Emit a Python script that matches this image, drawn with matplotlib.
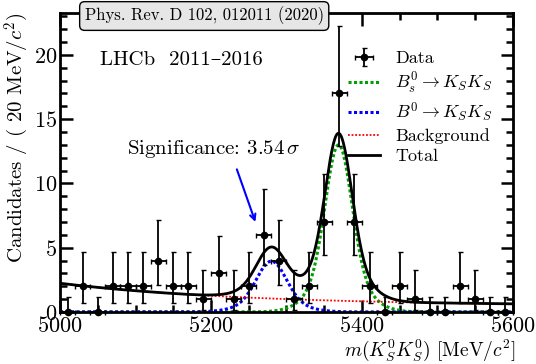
import numpy as np
import matplotlib
matplotlib.use("Agg")
import matplotlib.pyplot as plt
from matplotlib.ticker import MultipleLocator

plt.rcParams['font.family'] = ['cmr10', 'DejaVu Serif']
plt.rcParams['mathtext.fontset'] = 'cm'
plt.rcParams['axes.unicode_minus'] = False
plt.rcParams['axes.formatter.use_mathtext'] = True

# data, 20 MeV bins
bin_centres = [5010, 5030, 5050, 5070, 5090, 5110, 5130, 5150, 5170, 5190,
               5210, 5230, 5250, 5270, 5290, 5310, 5330, 5350, 5370, 5390,
               5410, 5430, 5450, 5470, 5490, 5510, 5530, 5550, 5570, 5590]
counts = [0, 2, 0, 2, 2, 2, 4, 2, 2, 1,
          3, 1, 2, 6, 4, 1, 2, 7, 17, 7,
          2, 0, 2, 1, 0, 0, 2, 1, 0, 0]
# asymmetric (Poisson) errors
err_lo = [0, 1.29, 0, 1.29, 1.29, 1.29, 1.91, 1.29, 1.29, 0.83,
          1.63, 0.83, 1.29, 2.38, 1.91, 0.83, 1.29, 2.58, 4.08, 2.58,
          1.29, 0, 1.29, 0.83, 0, 0, 1.29, 0.83, 0, 0]
err_hi = [1.15, 2.64, 1.15, 2.64, 2.64, 2.64, 3.16, 2.64, 2.64, 2.30,
          2.92, 2.30, 2.64, 3.58, 3.16, 2.30, 2.64, 3.77, 5.21, 3.77,
          2.64, 1.15, 2.64, 2.30, 1.15, 1.15, 2.64, 2.30, 1.15, 1.15]
bin_half = 10

# fit components (per 20 MeV), parameters
bkg_const, bkg_norm, bkg_slope = 0.47, 1.76, 0.004
bs_mean, bs_amps, bs_sigmas = 5369, [10.0, 3.0], [17.0, 32.0]
b0_mean, b0_amps, b0_sigmas = 5280, [3.0, 0.95], [19.0, 34.0]


def double_gauss(m, mean, amps, sigmas):
    return sum(a * np.exp(-0.5 * ((m - mean) / s) ** 2) for a, s in zip(amps, sigmas))


m = np.linspace(5000, 5600, 601)
bkg = bkg_const + bkg_norm * np.exp(-bkg_slope * (m - 5000))
bs = double_gauss(m, bs_mean, bs_amps, bs_sigmas)
b0 = double_gauss(m, b0_mean, b0_amps, b0_sigmas)
total = bkg + bs + b0

fig = plt.figure(figsize=(5.36, 3.64), dpi=100)
ax = fig.add_axes([0.112, 0.143, 0.845, 0.821])

l_bs, = ax.plot(m, bs, color='#00a000', ls=(0, (1, 0.8)), lw=2.2)
l_b0, = ax.plot(m, b0, color='#0000ff', ls=(0, (1, 0.8)), lw=2.2)
l_bkg, = ax.plot(m, bkg, color='#ff0000', ls=(0, (1, 1)), lw=1.3)
l_tot, = ax.plot(m, total, color='k', lw=2.0)
data = ax.errorbar(bin_centres, counts, xerr=bin_half, yerr=[err_lo, err_hi],
                   fmt='o', color='k', ms=4.5, elinewidth=1.3, capsize=1.8,
                   capthick=1.0, clip_on=False, zorder=5)

ax.set_xlim(5000, 5600)
ax.set_ylim(0, 23.25)
ax.xaxis.set_major_locator(MultipleLocator(200))
ax.xaxis.set_minor_locator(MultipleLocator(50))
ax.yaxis.set_major_locator(MultipleLocator(5))
ax.yaxis.set_minor_locator(MultipleLocator(1))
ax.tick_params(which='both', direction='in', top=True, right=True, width=1.8,
               labelsize=16)
ax.tick_params(which='major', length=9)
ax.tick_params(which='minor', length=5)
ax.tick_params(axis='x', pad=3)
ax.tick_params(axis='y', pad=2)
for sp in ax.spines.values():
    sp.set_linewidth(2)

ax.set_xlabel(r'$m(K^0_S K^0_S)$ [MeV/$c^2$]', fontsize=14, ha='right', va='top')
ax.xaxis.set_label_coords(1.005, -0.087)
ax.set_ylabel(r'Candidates / ( 20 MeV/$c^2$)', fontsize=15, loc='top', labelpad=2)

ax.legend([data, l_bs, l_b0, l_bkg, l_tot],
          ['Data', r'$B_s^0 \to K_S K_S$', r'$B^0 \to K_S K_S$', 'Background', 'Total'],
          loc='upper right', bbox_to_anchor=(0.99, 0.93), frameon=False,
          fontsize=13, handlelength=1.8, labelspacing=0.25, handletextpad=0.8)

ax.text(5053, 19.6, 'LHCb  2011\u20132016', fontsize=15, va='center', ha='left')
ax.text(5089, 12.7, r'Significance: $3.54\,\sigma$', fontsize=15, va='center', ha='left')
ax.annotate('', xy=(5260, 6.8), xytext=(5233, 11.3),
            arrowprops=dict(arrowstyle='->', color='#0000ff', lw=1.5))

fig.text(0.381, 0.956, 'Phys. Rev. D 102, 012011 (2020)', fontsize=12,
         ha='center', va='center',
         bbox=dict(boxstyle='round,pad=0.3', fc='#e6e6e6', ec='k', lw=1))

fig.savefig('out.png', dpi=100)
